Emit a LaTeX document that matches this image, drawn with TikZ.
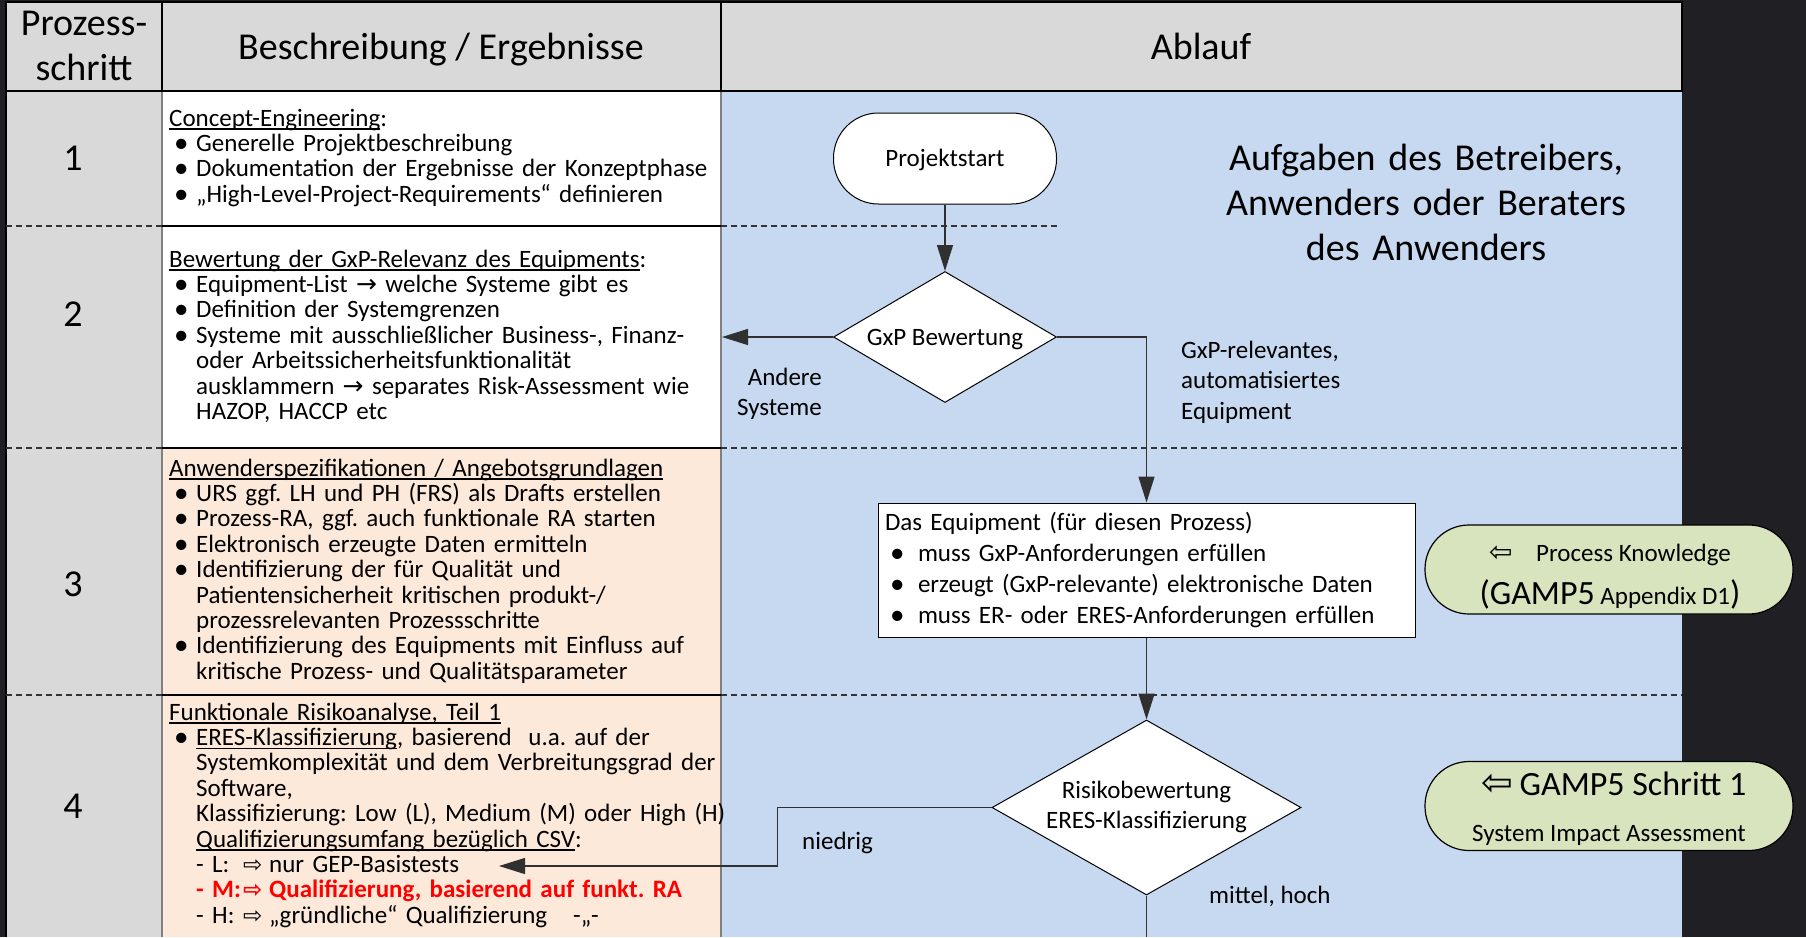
\documentclass[tikz,border=0pt]{standalone}
\usepackage{fontspec}
\setmainfont{Carlito}
\newfontfamily\symfont{DejaVu Sans}
\usetikzlibrary{arrows.meta,shapes.geometric}
\frenchspacing

\definecolor{pagebg}{HTML}{202024}
\definecolor{headgray}{HTML}{D9D9D9}
\definecolor{flowblue}{HTML}{C6D9F0}
\definecolor{peach}{HTML}{FDE9D9}
\definecolor{pillgreen}{HTML}{D7E4BD}
\definecolor{gridgray}{HTML}{808080}
\definecolor{linkgray}{HTML}{303030}

% font sizes (1pt = 1 unit of the drawing grid)
\newcommand\fbody{\fontsize{25}{25.4}\selectfont}
\newcommand\fhead{\fontsize{38}{45.5}\selectfont}
\newcommand\fbig{\fontsize{34}{40}\selectfont}
% simple underline: a rule just below the baseline
\newsavebox\ulbox
\newcommand\uln[1]{\sbox\ulbox{#1}\rlap{\rule[-3.5pt]{\wd\ulbox}{1.4pt}}\usebox\ulbox}
% list helpers
\newcommand\bigdot{\smash{\raisebox{-1pt}{\fontsize{29}{29}\selectfont\textbullet}}}
\newcommand\pbul{\hspace*{5pt}\makebox[22pt][l]{\bigdot}}
\newcommand\pind{\hspace*{27pt}}
\newcommand\ebul{\hspace*{5pt}\makebox[28pt][l]{\bigdot}}
\newcommand\parr{{\symfont →}}
\newcommand\pwr{{\symfont\fontsize{23}{23}\selectfont ⇨}}
\newcommand\pwl[1]{{\symfont\fontsize{#1}{#1}\selectfont ⇦}}

\begin{document}
\begin{tikzpicture}[x=1pt,y=-1pt,
  txt/.style={inner sep=0pt,font=\fbody},
  blocktxt/.style={txt,text width=640pt,align=left,anchor=base west},
  headtxt/.style={inner sep=0pt,font=\fhead},
  link/.style={draw=linkgray,line width=1.4pt},
  tip/.style={-{Triangle[length=26pt,width=16pt]}},
  rowsep/.style={draw=black!80,line width=1.2pt,dash pattern=on 6pt off 4pt},
  cellsep/.style={draw=black,line width=1.6pt},
  colsep/.style={draw=gridgray,line width=1.6pt},
  diam/.style={diamond,draw=black,line width=1pt,fill=white,inner sep=0pt},
  terminal/.style={draw=black,line width=1pt,fill=white,rounded corners=45pt,
    minimum width=223pt,minimum height=91pt,inner sep=0pt},
  eqbox/.style={draw=black,line width=1pt,fill=white,minimum width=537pt,
    minimum height=134pt,text width=523pt,inner xsep=7pt,inner ysep=0pt,
    align=left,font=\fontsize{25}{30.7}\selectfont},
  pill/.style={draw=black,line width=1.2pt,fill=pillgreen,rounded corners=44pt,
    minimum width=368pt,minimum height=89pt,inner sep=0pt}
]
\useasboundingbox (0,0) rectangle (1806,937);

% backgrounds
\fill[pagebg] (0,0) rectangle (1806,937);
\fill[headgray] (6,2) rectangle (1682,91);
\fill[headgray] (6,91) rectangle (162,937);
\fill[white] (162,91) rectangle (721,448);
\fill[peach] (162,448) rectangle (721,937);
\fill[flowblue] (721,91) rectangle (1682,937);

% grid
\draw[colsep] (162,91) -- (162,937);
\draw[colsep] (721,91) -- (721,937);
\draw[cellsep] (6,2) rectangle (1682,91);
\draw[cellsep] (162,2) -- (162,91);
\draw[cellsep] (721,2) -- (721,91);
\draw[cellsep] (6,91) -- (6,937);
\foreach \yy in {226,448,695} {
  \draw[rowsep] (6,\yy) -- (162,\yy);
  \draw[cellsep,line width=1.3pt] (162,\yy) -- (721,\yy);
}
\draw[rowsep] (721,226) -- (1057,226);
\draw[rowsep] (721,448) -- (1682,448);
\draw[rowsep] (721,695) -- (1682,695);

% header
\node[headtxt,text width=150pt,align=center,anchor=base] (hstep) at (84,35) {Prozess-\\schritt};
\node[headtxt,anchor=base] (hdesc) at (441,59) {Beschreibung / Ergebnisse};
\node[headtxt,anchor=base] (hflow) at (1201,59) {Ablauf};

% step numbers
\node[headtxt,anchor=base] (n1) at (73,170) {1};
\node[headtxt,anchor=base] (n2) at (73,326) {2};
\node[headtxt,anchor=base] (n3) at (73,596) {3};
\node[headtxt,anchor=base] (n4) at (73,818) {4};

% descriptions
\node[blocktxt] (d1) at (169,126) {\uln{Concept-Engineering}:\\
\pbul Generelle Projektbeschreibung\\
\pbul Dokumentation der Ergebnisse der Konzeptphase\\
\pbul „High-Level-Project-Requirements“ definieren};

\node[blocktxt] (d2) at (169,267) {\uln{Bewertung der GxP-Relevanz des Equipments}:\\
\pbul Equipment-List \parr{} welche Systeme gibt es\\
\pbul Definition der Systemgrenzen\\
\pbul Systeme mit ausschließlicher Business-, Finanz-\\
\pind oder Arbeitssicherheitsfunktionalität\\
\pind ausklammern \parr{} separates Risk-Assessment wie\\
\pind HAZOP, HACCP etc};

\node[blocktxt] (d3) at (169,476) {\uln{Anwenderspezifikationen / Angebotsgrundlagen}\\
\pbul URS ggf. LH und PH (FRS) als Drafts erstellen\\
\pbul Prozess-RA, ggf. auch funktionale RA starten\\
\pbul Elektronisch erzeugte Daten ermitteln\\
\pbul Identifizierung der für Qualität und\\
\pind Patientensicherheit kritischen produkt-/\\
\pind prozessrelevanten Prozessschritte\\
\pbul Identifizierung des Equipments mit Einfluss auf\\
\pind kritische Prozess- und Qualitätsparameter};

\node[blocktxt] (d4) at (169,720) {\uln{Funktionale Risikoanalyse, Teil 1}\\
\pbul \uln{ERES-Klassifizierung}, basierend\ \ u.a. auf der\\
\pind Systemkomplexität und dem Verbreitungsgrad der\\
\pind Software,\\
\pind Klassifizierung: Low (L), Medium (M) oder High (H)\\
\pind \uln{Qualifizierungsumfang bezüglich CSV}:\\
\pind \makebox[47pt][l]{- L:}\makebox[26pt][l]{\pwr}nur GEP-Basistests\\
\pind {\color{red}\bfseries\makebox[47pt][l]{- M:}\makebox[26pt][l]{\pwr}Qualifizierung, basierend auf funkt. RA}\\
\pind \makebox[47pt][l]{- H:}\makebox[26pt][l]{\pwr}\makebox[304pt][l]{„gründliche“ Qualifizierung}-„-};

% flow
\node[terminal] (start) at (945,158.5) {};
\node[txt,anchor=base] (starttext) at (945,166) {Projektstart};

\node[diam,minimum width=223pt,minimum height=131pt] (gxp) at (945,337) {};
\node[txt,anchor=base] (gxptext) at (945,345) {GxP Bewertung};

\node[eqbox] (equip) at (1146.5,570) {Das Equipment (für diesen Prozess)\\
\ebul muss GxP-Anforderungen erfüllen\\
\ebul erzeugt (GxP-relevante) elektronische Daten\\
\ebul muss ER- oder ERES-Anforderungen erfüllen};

\node[diam,minimum width=309pt,minimum height=175pt] (risk) at (1146.5,807.5) {};
\node[txt,text width=300pt,align=center,anchor=base,font=\fontsize{25}{30}\selectfont] (risktext) at (1146.5,798) {Risikobewertung\\ERES-Klassifizierung};

\coordinate (othersys) at (722,337);
\coordinate (lowmark) at (499,866);
\coordinate (riskout) at (1146.5,937);

\draw[link,tip] (start.south) -- (gxp.north);
\draw[link,tip] (gxp.west) -- (othersys);
\draw[link,tip] (gxp.east) -| (equip.north);
\draw[link,tip] (equip.south) -- (risk.north);
\draw[link,tip] (risk.west) -- ++(-214,0) |- (lowmark);
\draw[link] (risk.south) -- (riskout);

% connector labels
\node[txt,text width=120pt,align=right,anchor=base east,font=\fontsize{25}{30}\selectfont] (lblother) at (822,385) {Andere\\Systeme};
\node[txt,text width=200pt,align=left,anchor=base west,font=\fontsize{25}{30.5}\selectfont] (lblgxp) at (1181,358) {GxP-relevantes,\\automatisiertes\\Equipment};
\node[txt,anchor=base west] (lbllow) at (802,849) {niedrig};
\node[txt,anchor=base west] (lblhigh) at (1209,903) {mittel, hoch};

% side notes
\node[headtxt,text width=520pt,align=center,anchor=base,font=\fontsize{38}{45}\selectfont] (roles) at (1426,170) {Aufgaben des Betreibers,\\Anwenders oder Beraters\\des Anwenders};

\node[pill] (pk) at (1609,569.5) {};
\node[txt,anchor=base] (pk1) at (1610,561) {\makebox[47pt][l]{\pwl{28}}Process Knowledge};
\node[txt,anchor=base] (pk2) at (1610,604) {{\fbig(GAMP5} Appendix D1{\fbig)}};

\node[pill] (gamp) at (1609,806) {};
\node[txt,anchor=base] (gamp1) at (1614,795) {\fbig\makebox[38pt][l]{\pwl{38}}GAMP5 Schritt 1};
\node[txt,anchor=base] (gamp2) at (1609,841) {System Impact Assessment};
\end{tikzpicture}
\end{document}
